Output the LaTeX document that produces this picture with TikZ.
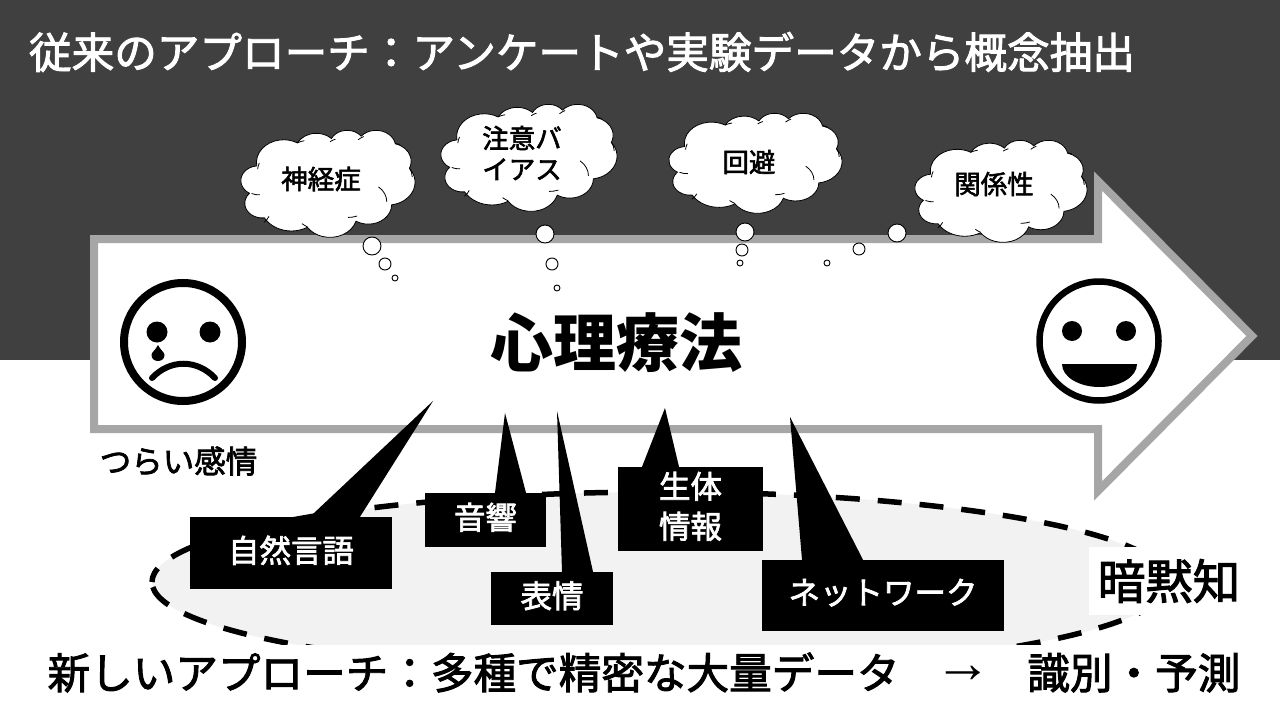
\documentclass[tikz,border=0pt]{standalone}
\usepackage{fontspec}
\setmainfont{Noto Sans CJK JP}
\newfontfamily\midfont{Noto Sans CJK JP}[FakeBold=2.2]
\newfontfamily\arrowfont{Liberation Serif}[Scale=1.35]
\usetikzlibrary{positioning}

\definecolor{darkbg}{HTML}{404040}
\definecolor{arrowgray}{HTML}{A6A6A6}
\definecolor{tacit}{HTML}{F2F2F2}

% outline of one thought cloud, in a 432 x 432 box
\newcommand{\puffcloud}[4]{
  \begin{scope}[shift={(#1,#2)}, xscale=#3/432, yscale=#4/432]
    \draw[puff] (39,143.7)
      \foreach \rx/\ry/\st/\sw [evaluate=\st as \ta using {atan2(\rx*sin(\st),\ry*cos(\st))},
          evaluate=\st as \tb using {Mod(atan2(\rx*sin(\st+\sw),\ry*cos(\st+\sw))-\ta,360)}] in
        {67.53/91.90/-190.49/123.78, 53.33/72.67/-144.10/89.95, 43.65/59.45/-145.81/99.72,
         48.57/65.95/-130.99/117.24, 53.33/72.73/-78.71/109.03, 67.75/92.20/-46.27/130.27,
         57.85/78.67/0.63/114.03, 67.52/92.15/22.45/115.17, 77.20/105.43/66.24/75.71,
         43.60/59.18/-274.94/146.74, 43.45/59.45/-246.83/152.52}
      { arc[start angle=\ta, delta angle=\tb, x radius=\rx, y radius=\ry] } -- cycle;
    \draw[crease] (46.9,261.8) arc[start angle=87, delta angle=28, x radius=43.45, y radius=59.45];
    \draw[crease] (69.3,349) arc[start angle=21, delta angle=28, x radius=43.60, y radius=59.18];
    \draw[crease] (164.8,390.9) arc[start angle=118, delta angle=14, x radius=67.52, y radius=92.15];
    \draw[crease] (288.3,347.5) arc[start angle=70, delta angle=20, x radius=67.52, y radius=92.15];
    \draw[crease] (341.3,229.5) arc[start angle=-50, delta angle=50, x radius=57.85, y radius=78.67];
    \draw[crease] (418,153.5) arc[start angle=-30, delta angle=30, x radius=53.33, y radius=72.73];
    \draw[crease] (383.2,54.3) arc[start angle=-80, delta angle=12, x radius=53.33, y radius=72.73];
    \draw[crease] (290.8,39.5) arc[start angle=-135, delta angle=20, x radius=48.57, y radius=65.95];
    \draw[crease] (221.4,47.2) arc[start angle=-130, delta angle=20, x radius=43.65, y radius=59.45];
    \draw[crease] (140,51.9) arc[start angle=-120, delta angle=20, x radius=53.33, y radius=72.67];
    \draw[crease] (41.3,157.9) arc[start angle=185, delta angle=16, x radius=67.53, y radius=91.90];
  \end{scope}
}

\begin{document}
\begin{tikzpicture}[
  x=1pt, y=1pt, yscale=-1,
  puff/.style={draw=black, fill=white, line width=0.8pt},
  crease/.style={draw=black, line width=0.8pt},
  bubble/.style={draw=black, fill=white, line width=0.9pt},
  label/.style={font=\midfont\fontsize{26.5}{31}\selectfont, align=center},
  tag/.style={fill=black, text=white, inner sep=0pt, align=center, text depth=8pt, font=\midfont\fontsize{31.5}{40}\selectfont},
  wedge/.style={fill=black},
  ring/.style={draw=black, fill=white, line width=6.5pt},
  headline/.style={font=\midfont\fontsize{42.6}{50}\selectfont, inner sep=0pt}
]
  \useasboundingbox (0,0) rectangle (1280,720);
  \fill[white] (0,0) rectangle (1280,720);
  \fill[darkbg] (0,0) rectangle (1280,360);

  % tacit knowledge area
  \draw[fill=tacit, draw=black, line width=5.5pt, dash pattern=on 24pt off 18pt, dash phase=9pt]
    (152,582) arc[start angle=180, delta angle=360, x radius=509, y radius=90] -- cycle;
  \node[fill=white, inner sep=0pt, minimum width=161pt, minimum height=68pt] (tacitlabel) at (1169,581)
    {\midfont\fontsize{47.5}{50}\selectfont 暗黙知};
  \node[headline, text=black, fill=white, minimum width=1230pt, minimum height=55pt] (newway) at (644,672.5)
    {新しいアプローチ：多種で精密な大量データ　\makebox[1em]{\raisebox{0.14em}{\arrowfont →}}　識別・予測};

  % big arrow
  \draw[draw=arrowgray, fill=white, line width=8pt, miter limit=10]
    (94,239) -- (1098,239) -- (1098,181) -- (1252,336) -- (1098,491) -- (1098,429) -- (94,429) -- cycle;
  \node[font=\bfseries\fontsize{63}{70}\selectfont] (therapy) at (616,343) {心理療法};
  \node[font=\midfont\fontsize{31.5}{36}\selectfont, inner sep=0pt] (pain) at (178.5,461) {つらい感情};
  \node[headline, text=white] (oldway) at (582,52) {従来のアプローチ：アンケートや実験データから概念抽出};

  % sad face
  \draw[ring, line width=8pt] (183,342) circle[radius=59];
  \fill (157,332) circle[radius=10.5];
  \fill (210,332) circle[radius=10.5];
  \fill (158,345) .. controls (155,351) and (151.5,352) .. (151.5,355)
    .. controls (151.5,363) and (164.5,363) .. (164.5,355)
    .. controls (164.5,352) and (161,351) .. (158,345) -- cycle;
  \draw[line width=6pt, line cap=round] (152,378) .. controls (170,359) and (197,359) .. (215,378);

  % happy face
  \draw[ring] (1099,341) circle[radius=59.5];
  \fill (1072,331) circle[radius=10];
  \fill (1126,331) circle[radius=10];
  \fill (1062,364) arc[start angle=180, delta angle=-180, x radius=37.5, y radius=23] -- cycle;

  % clouds with their bubbles
  \puffcloud{241}{130}{174}{107}
  \node[label] (neurosis) at (321,179) {神経症};
  \draw[bubble] (372,246) circle[radius=9];
  \draw[bubble] (385,264) circle[radius=6];
  \draw[bubble] (395,278) circle[radius=3];

  \puffcloud{441}{104}{176}{107}
  \node[label] (bias) at (522,153) {注意バ\\イアス};
  \draw[bubble] (545,234) circle[radius=9];
  \draw[bubble] (552,264) circle[radius=6];
  \draw[bubble] (557,288) circle[radius=3];

  \puffcloud{669}{113}{173}{100}
  \node[label] (avoid) at (749,162) {回避};
  \draw[bubble] (745,232) circle[radius=9];
  \draw[bubble] (742,250) circle[radius=6];
  \draw[bubble] (740,263) circle[radius=3];

  \puffcloud{915}{140}{172}{102}
  \node[label] (relation) at (994,184) {関係性};
  \draw[bubble] (897,233) circle[radius=9];
  \draw[bubble] (859,249) circle[radius=6];
  \draw[bubble] (827,263) circle[radius=3];

  % data callouts
  \node[tag, minimum width=202pt, minimum height=72pt] (language) at (291,553) {自然言語};
  \coordinate (languagetip) at (433,401);
  \fill[wedge] (languagetip) -- ([xshift=19pt]language.north) -- ([xshift=69pt]language.north) -- cycle;

  \node[tag, minimum width=121pt, minimum height=54pt] (sound) at (485.5,520) {音響};
  \coordinate (soundtip) at (505,413);
  \fill[wedge] (soundtip) -- ([xshift=9.5pt]sound.north) -- ([xshift=40.5pt]sound.north) -- cycle;

  \node[tag, minimum width=122pt, minimum height=53pt] (expression) at (552,598.5) {表情};
  \coordinate (expressiontip) at (557,411);
  \fill[wedge] (expressiontip) -- ([xshift=10pt]expression.north) -- ([xshift=41pt]expression.north) -- cycle;

  \node[tag, minimum width=145pt, minimum height=84pt] (bio) at (690.5,509) {生体\\情報};
  \coordinate (biotip) at (665,408);
  \fill[wedge] (biotip) -- ([xshift=-48.5pt]bio.north) -- ([xshift=-11.5pt]bio.north) -- cycle;

  \node[tag, minimum width=242pt, minimum height=71pt] (network) at (883,595.5) {ネットワーク};
  \coordinate (networktip) at (790,417);
  \fill[wedge] (networktip) -- ([xshift=-81pt]network.north) -- ([xshift=-20pt]network.north) -- cycle;
\end{tikzpicture}
\end{document}
